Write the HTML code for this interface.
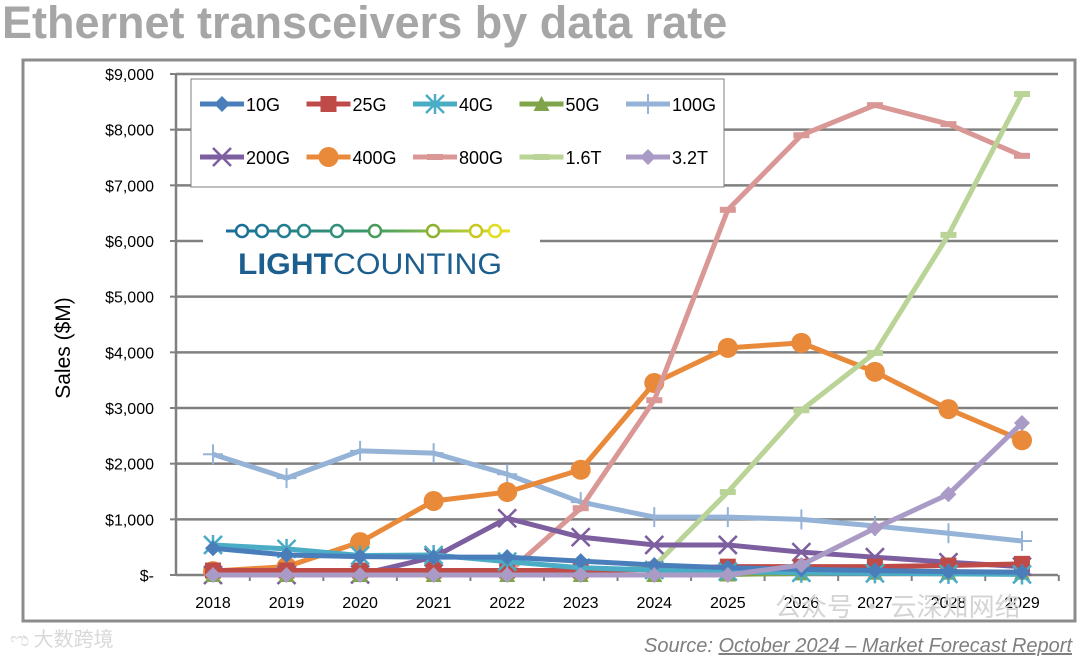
<!DOCTYPE html>
<html><head><meta charset="utf-8">
<style>
body{margin:0;background:#fff;width:1080px;height:659px;overflow:hidden;font-family:"Liberation Sans","Noto Sans CJK SC",sans-serif;}
</style></head>
<body>
<svg id="chart" width="1080" height="659" xmlns="http://www.w3.org/2000/svg">
<text x="2" y="38" font-family="Liberation Sans, sans-serif" font-weight="bold" font-size="45" fill="#a6a6a6">Ethernet transceivers by data rate</text>
<rect x="23" y="60" width="1052" height="561" fill="#fff" stroke="#8c8c8c" stroke-width="3"/>
<g id="grid"></g>
<g id="axes"></g>
<g id="series"></g>
<rect x="191" y="79" width="533" height="108" fill="#fff" stroke="#7f7f7f" stroke-width="1"/>
<g id="legend"></g>
<rect x="203" y="215" width="337" height="65" fill="#fff"/>
<g>
<defs><linearGradient id="lg" gradientUnits="userSpaceOnUse" x1="226" y1="0" x2="510" y2="0"><stop offset="0" stop-color="#1a6e9a"/><stop offset="0.5" stop-color="#3a9a6a"/><stop offset="1" stop-color="#e8e020"/></linearGradient></defs>
<rect x="226" y="229.5" width="284" height="3" fill="url(#lg)"/>
<g fill="#fff" stroke-width="2.5">
<circle cx="242" cy="231" r="6" stroke="#1a6e9a"/><circle cx="262" cy="231" r="6" stroke="#1d7797"/><circle cx="284" cy="231" r="6" stroke="#227f92"/><circle cx="304" cy="231" r="6" stroke="#27878b"/><circle cx="337" cy="231" r="6" stroke="#328f7a"/><circle cx="375" cy="231" r="6" stroke="#4a9a5a"/><circle cx="433" cy="231" r="6" stroke="#90b030"/><circle cx="476" cy="231" r="6" stroke="#c8c820"/><circle cx="495" cy="231" r="6" stroke="#e0dc20"/>
</g>
<text x="238" y="274" font-size="30" fill="#1c5f8f" font-family="Liberation Sans, sans-serif" textLength="264" lengthAdjust="spacingAndGlyphs"><tspan font-weight="bold">LIGHT</tspan>COUNTING</text>
</g>
<text x="70" y="348" transform="rotate(-90 70 348)" text-anchor="middle" font-size="21" fill="#000">Sales ($M)</text>
<text x="775" y="616" font-size="26" fill="#d4d4d4" font-family="Noto Sans CJK SC, sans-serif">公众号 · 云深知网络</text>
<text x="10" y="646" font-size="20" fill="#d8d8d8" font-family="Noto Sans CJK SC, sans-serif">ಌ 大数跨境</text>
<text x="1072" y="652" text-anchor="end" font-size="20" font-style="italic" fill="#7f7f7f">Source: <tspan text-decoration="underline">October 2024 – Market Forecast Report</tspan></text>
</svg>
<script>
const years = ["2018","2019","2020","2021","2022","2023","2024","2025","2026","2027","2028","2029"];
const yTicks = [0,1000,2000,3000,4000,5000,6000,7000,8000,9000];
const yTickLabels = ["$-","$1,000","$2,000","$3,000","$4,000","$5,000","$6,000","$7,000","$8,000","$9,000"];
const seriesNames = ["10G","25G","40G","50G","100G","200G","400G","800G","1.6T","3.2T"];
const s10G  = [480,360,330,320,320,250,180,130,100,80,60,50];
const s25G  = [80,80,80,80,80,80,100,150,150,150,170,200];
const s40G  = [540,470,350,360,240,130,90,60,40,30,20,10];
const s50G  = [0,0,0,0,0,0,0,10,30,40,40,40];
const s100G = [2170,1740,2230,2190,1810,1310,1040,1040,1000,880,750,610];
const s200G = [0,0,10,320,1020,680,540,540,410,320,230,150];
const s400G = [70,150,590,1330,1490,1890,3450,4080,4170,3650,2980,2420];
const s800G = [0,0,0,0,30,1200,3140,6560,7900,8440,8100,7530];
const s16T  = [0,0,0,0,0,10,160,1490,2960,3990,6110,8640];
const s32T  = [0,0,0,0,0,0,0,0,180,840,1450,2730];
const seriesData = [s10G,s25G,s40G,s50G,s100G,s200G,s400G,s800G,s16T,s32T];
const colors = ["#4a7ebb","#be4b48","#4bacc6","#7fa44a","#95b3d7","#7d5fa0","#e9893a","#d99795","#b9d496","#a99bc6"];
const markers = ["diamond","square","star","triangle","plus","x","circle","dash","dash","diamond"];
const NS="http://www.w3.org/2000/svg";
const X0=176,X1=1058,Y0=575,Y1=74,YMAX=9000;
const xs=i=>213+i*(1022-213)/(years.length-1);
const ys=v=>Y0-v/YMAX*(Y0-Y1);
function mk(tag,attrs,parent){const e=document.createElementNS(NS,tag);for(const k in attrs)e.setAttribute(k,attrs[k]);parent.appendChild(e);return e;}
const grid=document.getElementById('grid'),axes=document.getElementById('axes'),ser=document.getElementById('series'),leg=document.getElementById('legend');
yTicks.forEach((t,i)=>{
  if(t>0){const g=mk('line',{x1:X0,x2:X1,y1:ys(t),y2:ys(t),stroke:'#808080','stroke-width':2.5},grid);
  
  }
  mk('line',{x1:X0-6,x2:X0,y1:ys(t),y2:ys(t),stroke:'#808080','stroke-width':2},axes);
  const tx=mk('text',{x:X0-22,y:ys(t)+6,'text-anchor':'end','font-size':16,fill:'#000'},axes);
  tx.textContent=yTickLabels[i];
  
  
});
mk('line',{x1:X0,x2:X0,y1:Y1,y2:Y0,stroke:'#808080','stroke-width':2.5},axes);
mk('line',{x1:X0,x2:X1,y1:Y0,y2:Y0,stroke:'#808080','stroke-width':2.5},axes);
years.forEach((y,i)=>{
  const bx=xs(i)+36.8;
  mk('line',{x1:bx,x2:bx,y1:Y0,y2:Y0+6,stroke:'#808080','stroke-width':2},axes);
  const tx=mk('text',{x:xs(i),y:608,'text-anchor':'middle','font-size':16,fill:'#000'},axes);
  tx.textContent=y;
  
  
});
function marker(type,x,y,c,p){
  if(type==='diamond')mk('polygon',{points:`${x},${y-8} ${x+8},${y} ${x},${y+8} ${x-8},${y}`,fill:c},p);
  else if(type==='square')mk('rect',{x:x-8,y:y-8,width:16,height:16,fill:c},p);
  else if(type==='triangle')mk('polygon',{points:`${x},${y-8} ${x+8},${y+7} ${x-8},${y+7}`,fill:c},p);
  else if(type==='circle')mk('circle',{cx:x,cy:y,r:10,fill:c},p);
  else if(type==='plus'){mk('path',{d:`M${x-10} ${y}H${x+10}M${x} ${y-10}V${y+10}`,stroke:c,'stroke-width':2},p);}
  else if(type==='x'){mk('path',{d:`M${x-9} ${y-9}L${x+9} ${y+9}M${x+9} ${y-9}L${x-9} ${y+9}`,stroke:c,'stroke-width':2.5},p);}
  else if(type==='star'){mk('path',{d:`M${x-9} ${y-9}L${x+9} ${y+9}M${x+9} ${y-9}L${x-9} ${y+9}M${x} ${y-10}V${y+10}`,stroke:c,'stroke-width':2.5},p);}
  else if(type==='dash')mk('rect',{x:x-8,y:y-3,width:16,height:6,fill:c},p);
}
const drawOrder=[4,6,7,8,5,1,3,2,0,9];
drawOrder.forEach(k=>{
  const g=mk('g',{},ser);
  
  
  const pts=seriesData[k].map((v,i)=>xs(i)+','+ys(v)).join(' ');
  mk('polyline',{points:pts,fill:'none',stroke:colors[k],'stroke-width':5,'stroke-linejoin':'round'},g);
  seriesData[k].forEach((v,i)=>marker(markers[k],xs(i),ys(v),colors[k],g));
});
seriesNames.forEach((n,k)=>{
  const col=k%5,row=Math.floor(k/5);
  const lx=200+col*106.5,ly=104+row*53;
  const g=mk('g',{},leg);
  
  
  mk('line',{x1:lx,x2:lx+44,y1:ly,y2:ly,stroke:colors[k],'stroke-width':5},g);
  marker(markers[k],lx+22,ly,colors[k],g);
  const t=mk('text',{x:lx+46,y:ly+7,'font-size':18,fill:'#000'},g);
  t.textContent=n;
});
</script>
</body></html>
